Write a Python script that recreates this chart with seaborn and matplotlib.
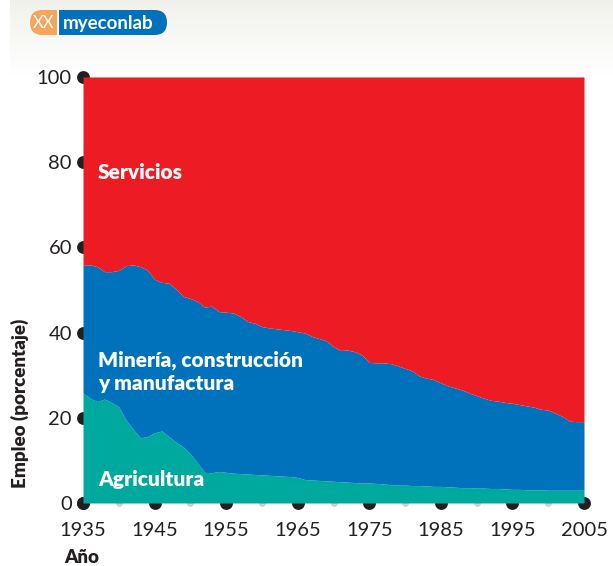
import numpy as np
import pandas as pd
import matplotlib.pyplot as plt
import seaborn as sns
from matplotlib.patches import FancyBboxPatch
from matplotlib.colors import LinearSegmentedColormap

years = list(range(1935, 2006))

agricultura = [
    25.8, 24.6, 23.8, 24.4, 23.6, 22.6, 19.5, 17.3, 15.3, 15.6,
    16.5, 16.9, 15.6, 14.3, 13.2, 11.5, 9.4, 7.2, 7.1, 7.4,
    7.2, 7.0, 6.9, 6.8, 6.7, 6.6, 6.5, 6.4, 6.3, 6.2,
    6.0, 5.5, 5.4, 5.3, 5.2, 5.1, 5.0, 4.9, 4.8, 4.7,
    4.7, 4.6, 4.5, 4.3, 4.2, 4.2, 4.1, 4.1, 4.0, 3.9,
    3.9, 3.8, 3.7, 3.6, 3.6, 3.5, 3.5, 3.4, 3.4, 3.3,
    3.2, 3.2, 3.1, 3.1, 3.1, 3.0, 3.0, 3.0, 3.0, 3.0,
    3.0,
]

industria = [
    30.1, 31.3, 31.7, 29.9, 30.7, 32.0, 36.2, 38.6, 40.2, 39.1,
    36.0, 34.9, 36.0, 35.9, 35.3, 36.5, 37.9, 38.8, 39.1, 37.5,
    37.6, 37.6, 36.9, 35.8, 35.5, 34.8, 34.6, 34.5, 34.4, 34.3,
    34.2, 34.4, 33.7, 33.3, 32.9, 31.6, 30.8, 31.0, 30.7, 30.0,
    28.3, 28.3, 28.4, 28.4, 28.0, 27.4, 26.9, 25.7, 25.3, 25.1,
    24.3, 23.7, 23.3, 22.9, 22.2, 21.7, 21.1, 20.7, 20.5, 20.3,
    20.2, 19.9, 19.7, 19.4, 18.9, 18.8, 18.1, 17.3, 16.2, 16.1,
    16.1,
]

df = pd.DataFrame({"anio": years, "agricultura": agricultura, "industria": industria})
df["servicios"] = 100 - df["agricultura"] - df["industria"]

x_major = list(range(1935, 2006, 10))
x_minor = list(range(1940, 2001, 10))
y_major = list(range(0, 101, 20))

red = "#ed1c24"
blue = "#0072bc"
teal = "#00a99d"
ink = "#231f20"

sns.set_theme(style="white")
plt.rcParams['font.family'] = ['Lato', 'DejaVu Sans']

fig = plt.figure(figsize=(6.13, 5.66), dpi=100)
fig.patch.set_facecolor("white")

# header band with logo
bg = fig.add_axes([0, 0, 1, 1], zorder=0)
bg.set_xlim(0, 613)
bg.set_ylim(566, 0)
bg.axis("off")
fade = LinearSegmentedColormap.from_list("fade", ["#f1f1ec", "#ffffff"])
bg.imshow(np.linspace(0, 1, 100)[:, None], cmap=fade, aspect="auto",
          extent=[10, 613, 76, 0], zorder=0)
bg.add_patch(FancyBboxPatch((36, 10), 131, 25, boxstyle="round,pad=0,rounding_size=12.5",
                            fc=blue, ec="none", zorder=1))
bg.add_patch(FancyBboxPatch((30, 10), 40, 25, boxstyle="round,pad=0,rounding_size=12.5",
                            fc="#f7a55a", ec="none", zorder=2))
bg.add_patch(plt.Rectangle((57, 10), 2, 25, fc="white", ec="none", zorder=3))
bg.add_patch(plt.Rectangle((59, 10), 15, 25, fc=blue, ec="none", zorder=3))
bg.text(44, 23, "XX", color="white", fontsize=12, ha="center", va="center",
        zorder=4)
bg.text(63, 23, "myeconlab", color="white", fontsize=13.5, ha="left", va="center",
        fontweight="bold", zorder=4)

ax = fig.add_axes([0.1354, 0.1113, 0.8173, 0.7527], zorder=1)
ax.stackplot(df["anio"], df["agricultura"], df["industria"], df["servicios"],
             colors=[teal, blue, red], linewidth=0)
ax.set_xlim(1935, 2005)
ax.set_ylim(0, 100)
sns.despine(ax=ax, left=True, bottom=True)

ax.set_xticks(x_major)
ax.set_xticks(x_minor, minor=True)
ax.set_yticks(y_major)
ax.tick_params(axis="x", which="both", bottom=True, length=0, pad=14,
               labelsize=14.5, labelcolor=ink)
ax.tick_params(axis="y", which="both", left=True, length=0, pad=8,
               labelsize=14.5, labelcolor=ink)
for t in ax.xaxis.get_major_ticks() + ax.yaxis.get_major_ticks():
    t.tick1line.set_marker("o")
    t.tick1line.set_markersize(8)
    t.tick1line.set_markerfacecolor(ink)
    t.tick1line.set_markeredgecolor(ink)
for t in ax.xaxis.get_minor_ticks():
    t.tick1line.set_marker("o")
    t.tick1line.set_markersize(4)
    t.tick1line.set_markerfacecolor("#d0d0d0")
    t.tick1line.set_markeredgecolor("#d0d0d0")

ax.set_xlabel("")
ax.set_ylabel("")
ax.text(-0.038, -0.127, "Año", transform=ax.transAxes, ha="left", va="center",
        fontsize=13.5, fontweight="heavy", color=ink)
ax.text(-0.125, 0.235, "Empleo (porcentaje)", transform=ax.transAxes, rotation=90,
        ha="center", va="center", fontsize=13.5, fontweight="heavy", color=ink)

lbl = dict(color="white", fontsize=15, fontweight="heavy", ha="left", va="center")
ax.text(1937.1, 77.5, "Servicios", **lbl)
ax.text(1937.1, 30.8, "Minería, construcción\ny manufactura", linespacing=1.25, **lbl)
ax.text(1937.1, 5.4, "Agricultura", **lbl)

fig.savefig("out.png", dpi=100)
